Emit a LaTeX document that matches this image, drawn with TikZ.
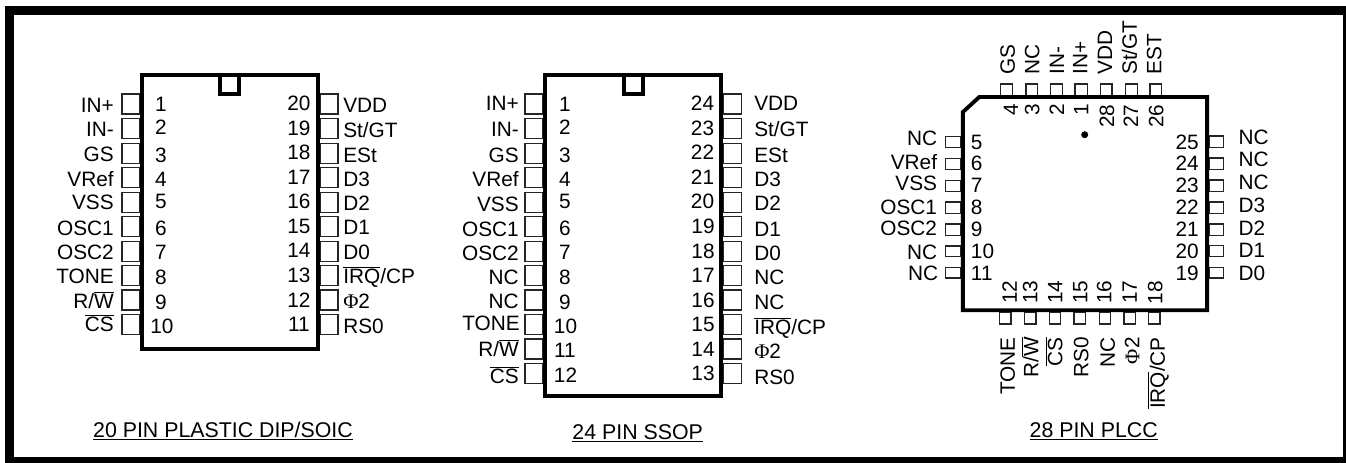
\documentclass[tikz,border=0pt]{standalone}
\usepackage{fontspec}
\setmainfont{Liberation Sans}
\newfontfamily\phifont{Liberation Serif}
\tikzset{
	framebox/.style={draw=black, line width=6.75pt},
	chip/.style={draw=black, line width=2.9pt, miter limit=10},
	pinbox/.style={draw=black!85, line width=0.9pt},
	padtext/.style={inner sep=0pt, text height=11.2pt, text depth=0pt, font=\fontsize{15.6}{16}\selectfont},
	leftlabel/.style={padtext, anchor=east},
	rightlabel/.style={padtext, anchor=west},
	uplabel/.style={padtext, rotate=90, anchor=west},
	downlabel/.style={padtext, rotate=90, anchor=east},
	padnum/.style={padtext},
	upnum/.style={padtext, rotate=90},
	caption/.style={inner sep=0pt, anchor=base, font=\fontsize{16}{17}\selectfont}
}
\newcommand{\negated}[1]{$\overline{\mbox{#1}}$}
\newcommand{\phitwo}{{\phifont Φ}2}
\begin{document}
\begin{tikzpicture}[x=0.75pt, y=-0.75pt]
	\useasboundingbox (0,0) rectangle (1346,462);
	\path[framebox] (9.5,10.5) rectangle (1347.5,461.5);

%% 20 pin package, pins first and then the body on top of them
	\begin{scope}
	\draw[pinbox] (122,94) rectangle (140,114);
	\draw[pinbox] (122,118.7) rectangle (140,138.7);
	\draw[pinbox] (122,143.3) rectangle (140,163.3);
	\draw[pinbox] (122,167.7) rectangle (140,187.7);
	\draw[pinbox] (122,192.3) rectangle (140,212.3);
	\draw[pinbox] (122,216.7) rectangle (140,236.7);
	\draw[pinbox] (122,241.3) rectangle (140,261.3);
	\draw[pinbox] (122,265.7) rectangle (140,285.7);
	\draw[pinbox] (122,290) rectangle (140,310);
	\draw[pinbox] (122,314.7) rectangle (140,334.7);
	\draw[pinbox] (320,94) rectangle (338,114);
	\draw[pinbox] (320,118.7) rectangle (338,138.7);
	\draw[pinbox] (320,143.3) rectangle (338,163.3);
	\draw[pinbox] (320,167.7) rectangle (338,187.7);
	\draw[pinbox] (320,192.3) rectangle (338,212.3);
	\draw[pinbox] (320,216.7) rectangle (338,236.7);
	\draw[pinbox] (320,241.3) rectangle (338,261.3);
	\draw[pinbox] (320,265.7) rectangle (338,285.7);
	\draw[pinbox] (320,290) rectangle (338,310);
	\draw[pinbox] (320,314.7) rectangle (338,334.7);
	\draw[chip] (141.9,75) rectangle (318.1,349);
	\draw[chip] (220.2,75) -- (220.2,94.2) -- (239.3,94.2) -- (239.3,75);

	\node[leftlabel] (dipa1) at (114,105) {IN+};
	\node[leftlabel] (dipa2) at (114,129) {IN-};
	\node[leftlabel] (dipa3) at (114,154) {GS};
	\node[leftlabel] (dipa4) at (114,179) {VRef};
	\node[leftlabel] (dipa5) at (114,202) {VSS};
	\node[leftlabel] (dipa6) at (114,228) {OSC1};
	\node[leftlabel] (dipa7) at (114,252) {OSC2};
	\node[leftlabel] (dipa8) at (114,276) {TONE};
	\node[leftlabel] (dipa9) at (114,301) {R/\negated{W}};
	\node[leftlabel] (dipa10) at (114,324) {\negated{CS}};
	\node[rightlabel] (dipa11) at (343,326) {RS0};
	\node[rightlabel] (dipa12) at (343,301) {\phitwo};
	\node[rightlabel] (dipa13) at (343,276) {\negated{IRQ}/CP};
	\node[rightlabel] (dipa14) at (343,252) {D0};
	\node[rightlabel] (dipa15) at (343,227) {D1};
	\node[rightlabel] (dipa16) at (343,203) {D2};
	\node[rightlabel] (dipa17) at (343,179) {D3};
	\node[rightlabel] (dipa18) at (343,155) {ESt};
	\node[rightlabel] (dipa19) at (343,130) {St/GT};
	\node[rightlabel] (dipa20) at (343,105) {VDD};

	\node[padnum] (dipn1) at (161,104) {1};
	\node[padnum] (dipn2) at (161,127) {2};
	\node[padnum] (dipn3) at (161,155) {3};
	\node[padnum] (dipn4) at (161,179) {4};
	\node[padnum] (dipn5) at (161,201) {5};
	\node[padnum] (dipn6) at (161,228) {6};
	\node[padnum] (dipn7) at (161,252) {7};
	\node[padnum] (dipn8) at (161,277) {8};
	\node[padnum] (dipn9) at (161,302) {9};
	\node[padnum] (dipn10) at (162,326) {10};
	\node[padnum] (dipn11) at (299,324) {11};
	\node[padnum] (dipn12) at (299,300) {12};
	\node[padnum] (dipn13) at (299,275) {13};
	\node[padnum] (dipn14) at (299,250) {14};
	\node[padnum] (dipn15) at (299,226) {15};
	\node[padnum] (dipn16) at (299,201) {16};
	\node[padnum] (dipn17) at (299,177) {17};
	\node[padnum] (dipn18) at (299,152) {18};
	\node[padnum] (dipn19) at (299,128) {19};
	\node[padnum] (dipn20) at (299,103) {20};

	\node[caption] (dipname) at (223,437.3) {\underline{20 PIN PLASTIC DIP/SOIC}};
	\end{scope}

%% 24 pin package
	\begin{scope}
	\draw[pinbox] (525,94) rectangle (543,114);
	\draw[pinbox] (525,118.7) rectangle (543,138.7);
	\draw[pinbox] (525,143.3) rectangle (543,163.3);
	\draw[pinbox] (525,167.7) rectangle (543,187.7);
	\draw[pinbox] (525,192.3) rectangle (543,212.3);
	\draw[pinbox] (525,216.7) rectangle (543,236.7);
	\draw[pinbox] (525,241.3) rectangle (543,261.3);
	\draw[pinbox] (525,265.7) rectangle (543,285.7);
	\draw[pinbox] (525,290) rectangle (543,310);
	\draw[pinbox] (525,314.7) rectangle (543,334.7);
	\draw[pinbox] (525,339) rectangle (543,359);
	\draw[pinbox] (525,363.5) rectangle (543,383.5);
	\draw[pinbox] (723,94) rectangle (741.5,114);
	\draw[pinbox] (723,118.7) rectangle (741.5,138.7);
	\draw[pinbox] (723,143.3) rectangle (741.5,163.3);
	\draw[pinbox] (723,167.7) rectangle (741.5,187.7);
	\draw[pinbox] (723,192.3) rectangle (741.5,212.3);
	\draw[pinbox] (723,216.7) rectangle (741.5,236.7);
	\draw[pinbox] (723,241.3) rectangle (741.5,261.3);
	\draw[pinbox] (723,265.7) rectangle (741.5,285.7);
	\draw[pinbox] (723,290) rectangle (741.5,310);
	\draw[pinbox] (723,314.7) rectangle (741.5,334.7);
	\draw[pinbox] (723,339) rectangle (741.5,359);
	\draw[pinbox] (723,363.5) rectangle (741.5,383.5);
	\draw[chip] (545.2,75) rectangle (721.1,396);
	\draw[chip] (623.7,75) -- (623.7,94.2) -- (642.8,94.2) -- (642.8,75);

	\node[leftlabel] (ssopa1) at (519,103) {IN+};
	\node[leftlabel] (ssopa2) at (519,129) {IN-};
	\node[leftlabel] (ssopa3) at (519,155) {GS};
	\node[leftlabel] (ssopa4) at (519,179) {VRef};
	\node[leftlabel] (ssopa5) at (519,204) {VSS};
	\node[leftlabel] (ssopa6) at (519,229) {OSC1};
	\node[leftlabel] (ssopa7) at (519,253) {OSC2};
	\node[leftlabel] (ssopa8) at (519,277) {NC};
	\node[leftlabel] (ssopa9) at (519,301) {NC};
	\node[leftlabel] (ssopa10) at (520,323) {TONE};
	\node[leftlabel] (ssopa11) at (519,349) {R/\negated{W}};
	\node[leftlabel] (ssopa12) at (519,376) {\negated{CS}};
	\node[rightlabel] (ssopa13) at (754,377) {RS0};
	\node[rightlabel] (ssopa14) at (754,351) {\phitwo};
	\node[rightlabel] (ssopa15) at (754,327) {\negated{IRQ}/CP};
	\node[rightlabel] (ssopa16) at (754,302) {NC};
	\node[rightlabel] (ssopa17) at (754,277) {NC};
	\node[rightlabel] (ssopa18) at (754,253) {D0};
	\node[rightlabel] (ssopa19) at (754,229) {D1};
	\node[rightlabel] (ssopa20) at (754,203) {D2};
	\node[rightlabel] (ssopa21) at (754,179) {D3};
	\node[rightlabel] (ssopa22) at (754,155) {ESt};
	\node[rightlabel] (ssopa23) at (754,129) {St/GT};
	\node[rightlabel] (ssopa24) at (754,103) {VDD};

	\node[padnum] (ssopn1) at (565,104) {1};
	\node[padnum] (ssopn2) at (565,127) {2};
	\node[padnum] (ssopn3) at (565,155) {3};
	\node[padnum] (ssopn4) at (565,179) {4};
	\node[padnum] (ssopn5) at (565,201) {5};
	\node[padnum] (ssopn6) at (565,228) {6};
	\node[padnum] (ssopn7) at (565,252) {7};
	\node[padnum] (ssopn8) at (565,277) {8};
	\node[padnum] (ssopn9) at (565,302) {9};
	\node[padnum] (ssopn10) at (565.5,326) {10};
	\node[padnum] (ssopn11) at (565,350) {11};
	\node[padnum] (ssopn12) at (565.5,375) {12};
	\node[padnum] (ssopn13) at (703,373) {13};
	\node[padnum] (ssopn14) at (703,349) {14};
	\node[padnum] (ssopn15) at (703,324) {15};
	\node[padnum] (ssopn16) at (703,300) {16};
	\node[padnum] (ssopn17) at (703,275) {17};
	\node[padnum] (ssopn18) at (703,251) {18};
	\node[padnum] (ssopn19) at (703,226) {19};
	\node[padnum] (ssopn20) at (702.5,201) {20};
	\node[padnum] (ssopn21) at (702.5,177) {21};
	\node[padnum] (ssopn22) at (702.5,152) {22};
	\node[padnum] (ssopn23) at (702.5,128) {23};
	\node[padnum] (ssopn24) at (702.5,103) {24};

	\node[caption] (ssopname) at (637.7,439.3) {\underline{24 PIN SSOP}};
	\end{scope}

%% 28 pin package, the numbers and names on top and bottom stand on their side
	\begin{scope}
	\draw[pinbox] (1000.7,84) rectangle (1012.7,96);
	\draw[pinbox] (1026,84) rectangle (1037.3,96);
	\draw[pinbox] (1050.7,84) rectangle (1062.7,96);
	\draw[pinbox] (1075,84) rectangle (1087.3,96);
	\draw[pinbox] (1100.7,84) rectangle (1112,96);
	\draw[pinbox] (1125.3,84) rectangle (1137.3,96);
	\draw[pinbox] (1150,84) rectangle (1161.7,96);
	\draw[pinbox] (999.3,312) rectangle (1011,324);
	\draw[pinbox] (1024.7,312) rectangle (1036,324);
	\draw[pinbox] (1049.3,312) rectangle (1060.7,324);
	\draw[pinbox] (1074,312) rectangle (1085.3,324);
	\draw[pinbox] (1099.3,312) rectangle (1110.7,324);
	\draw[pinbox] (1124,312) rectangle (1135.3,324);
	\draw[pinbox] (1148.7,312) rectangle (1160,324);
	\draw[pinbox] (945.7,136.7) rectangle (961,147.3);
	\draw[pinbox] (945.7,158.7) rectangle (961,169.3);
	\draw[pinbox] (945.7,180.7) rectangle (961,191.3);
	\draw[pinbox] (945.7,202) rectangle (961,213.3);
	\draw[pinbox] (945.7,224) rectangle (961,235.3);
	\draw[pinbox] (945.7,246) rectangle (961,256.7);
	\draw[pinbox] (945.7,267.3) rectangle (961,278);
	\draw[pinbox] (1209,136) rectangle (1223.3,147.3);
	\draw[pinbox] (1209,158) rectangle (1223.3,169.3);
	\draw[pinbox] (1209,180) rectangle (1223.3,191.3);
	\draw[pinbox] (1209,202) rectangle (1223.3,213.3);
	\draw[pinbox] (1209,224) rectangle (1223.3,235.3);
	\draw[pinbox] (1209,245.3) rectangle (1223.3,256.7);
	\draw[pinbox] (1209,267.3) rectangle (1223.3,278);
	\draw[chip] (962.9,112) -- (979.3,97) -- (1207.1,97) -- (1207.1,310.3) -- (962.9,310.3) -- cycle;
	\fill (1084.7,134.7) circle (3.5);

	\node[uplabel] (plcca4) at (1007.3,75) {GS};
	\node[uplabel] (plcca3) at (1032,75) {NC};
	\node[uplabel] (plcca2) at (1056.7,75) {IN-};
	\node[uplabel] (plcca1) at (1080,75) {IN+};
	\node[uplabel] (plcca28) at (1104.7,75) {VDD};
	\node[uplabel] (plcca27) at (1129.3,75) {St/GT};
	\node[uplabel] (plcca26) at (1154,75) {EST};
	\node[downlabel] (plcca12) at (1007.3,337) {TONE};
	\node[downlabel] (plcca13) at (1031,337) {R/\negated{W}};
	\node[downlabel] (plcca14) at (1055,337) {\negated{CS}};
	\node[downlabel] (plcca15) at (1081,337) {RS0};
	\node[downlabel] (plcca16) at (1107.3,337) {NC};
	\node[downlabel] (plcca17) at (1132,337) {\phitwo};
	\node[downlabel] (plcca18) at (1157.3,337) {\negated{IRQ}/CP};
	\node[leftlabel] (plcca5) at (937.3,138.3) {NC};
	\node[leftlabel] (plcca6) at (937.3,161.7) {VRef};
	\node[leftlabel] (plcca7) at (937.3,183.3) {VSS};
	\node[leftlabel] (plcca8) at (937.3,206.7) {OSC1};
	\node[leftlabel] (plcca9) at (937.3,228.3) {OSC2};
	\node[leftlabel] (plcca10) at (937.3,251.7) {NC};
	\node[leftlabel] (plcca11) at (938.5,273.3) {NC};
	\node[rightlabel] (plcca25) at (1238.3,137.3) {NC};
	\node[rightlabel] (plcca24) at (1238.3,159.3) {NC};
	\node[rightlabel] (plcca23) at (1238.3,182) {NC};
	\node[rightlabel] (plcca22) at (1238.3,204.7) {D3};
	\node[rightlabel] (plcca21) at (1238.3,227.7) {D2};
	\node[rightlabel] (plcca20) at (1238.3,250) {D1};
	\node[rightlabel] (plcca19) at (1238.3,272.7) {D0};

	\node[upnum] (plccn4) at (1010.7,110) {4};
	\node[upnum] (plccn3) at (1032,110) {3};
	\node[upnum] (plccn2) at (1056.7,110) {2};
	\node[upnum] (plccn1) at (1081,110) {1};
	\node[upnum] (plccn28) at (1106.7,116) {28};
	\node[upnum] (plccn27) at (1130.7,116) {27};
	\node[upnum] (plccn26) at (1156,116) {26};
	\node[upnum] (plccn12) at (1009.3,292) {12};
	\node[upnum] (plccn13) at (1030,292) {13};
	\node[upnum] (plccn14) at (1055,292) {14};
	\node[upnum] (plccn15) at (1080,292) {15};
	\node[upnum] (plccn16) at (1104,292) {16};
	\node[upnum] (plccn17) at (1129.3,292) {17};
	\node[upnum] (plccn18) at (1155,292.5) {18};
	\node[padnum, anchor=west] (plccn5) at (970.7,141.7) {5};
	\node[padnum, anchor=west] (plccn6) at (970.7,163.3) {6};
	\node[padnum, anchor=west] (plccn7) at (970.7,185.3) {7};
	\node[padnum, anchor=west] (plccn8) at (970.7,207.3) {8};
	\node[padnum, anchor=west] (plccn9) at (970.7,229) {9};
	\node[padnum, anchor=west] (plccn10) at (970.7,250.7) {10};
	\node[padnum, anchor=west] (plccn11) at (970.7,272.7) {11};
	\node[padnum, anchor=east] (plccn25) at (1199,141.7) {25};
	\node[padnum, anchor=east] (plccn24) at (1199,163.3) {24};
	\node[padnum, anchor=east] (plccn23) at (1199,185.3) {23};
	\node[padnum, anchor=east] (plccn22) at (1199,207.3) {22};
	\node[padnum, anchor=east] (plccn21) at (1199,229) {21};
	\node[padnum, anchor=east] (plccn20) at (1199,250.7) {20};
	\node[padnum, anchor=east] (plccn19) at (1199,272.7) {19};

	\node[caption] (plccname) at (1093.7,437.3) {\underline{28 PIN PLCC}};
	\end{scope}

\end{tikzpicture}
\end{document}
